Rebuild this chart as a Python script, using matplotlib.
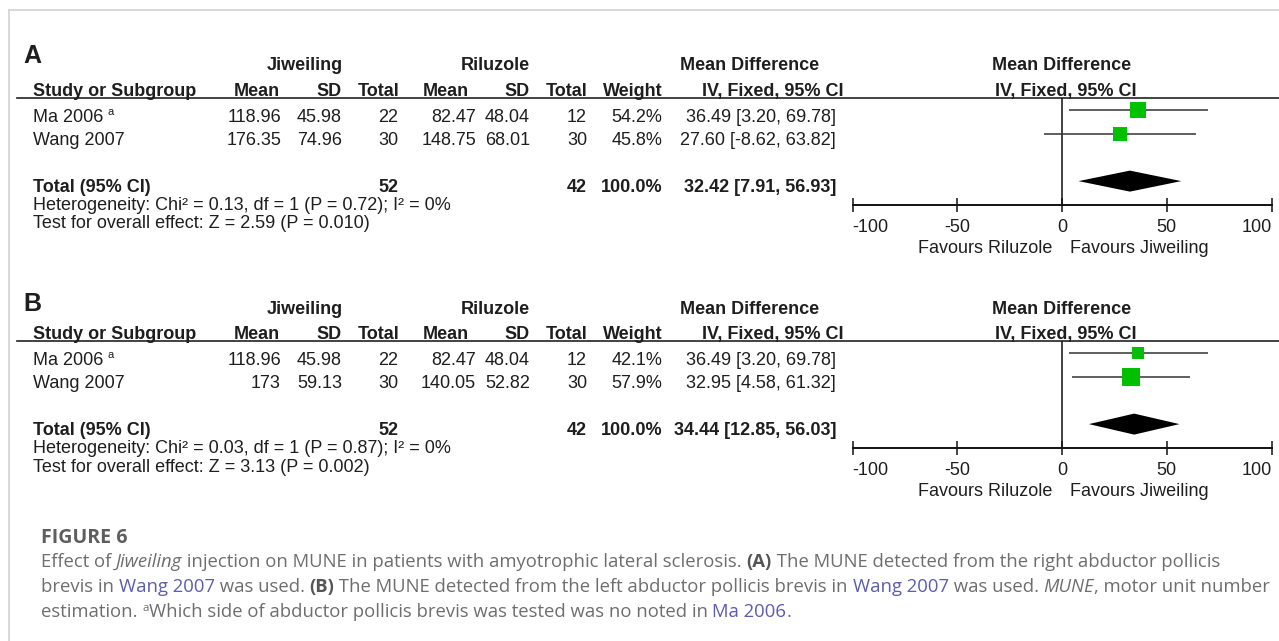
import matplotlib
matplotlib.use('Agg')
import matplotlib.pyplot as plt
from matplotlib.patches import Polygon

# ---- data ----
studies = ['Ma 2006', 'Wang 2007']
jw_n = [22, 30]
rz_n = [12, 30]

# panel A (right abductor pollicis brevis in Wang 2007)
jw_mean_A = [118.96, 176.35]
jw_sd_A = [45.98, 74.96]
rz_mean_A = [82.47, 148.75]
rz_sd_A = [48.04, 68.01]
weight_A = [54.2, 45.8]
md_A = [36.49, 27.60]
lo_A = [3.20, -8.62]
hi_A = [69.78, 63.82]
total_A = [32.42, 7.91, 56.93]
het_A = 'Heterogeneity: Chi\u00b2 = 0.13, df = 1 (P = 0.72); I\u00b2 = 0%'
z_A = 'Test for overall effect: Z = 2.59 (P = 0.010)'

# panel B (left abductor pollicis brevis in Wang 2007)
jw_mean_B = [118.96, 173]
jw_sd_B = [45.98, 59.13]
rz_mean_B = [82.47, 140.05]
rz_sd_B = [48.04, 52.82]
weight_B = [42.1, 57.9]
md_B = [36.49, 32.95]
lo_B = [3.20, 4.58]
hi_B = [69.78, 61.32]
total_B = [34.44, 12.85, 56.03]
het_B = 'Heterogeneity: Chi\u00b2 = 0.03, df = 1 (P = 0.87); I\u00b2 = 0%'
z_B = 'Test for overall effect: Z = 3.13 (P = 0.002)'

xticks = [-100, -50, 0, 50, 100]

W, H = 1279, 641
TXT = '#1e1e1e'
GREEN = '#00c000'
FONT = ['Liberation Sans', 'DejaVu Sans']
CAPFONT = ['Open Sans', 'Noto Sans', 'DejaVu Sans']

fig = plt.figure(figsize=(W / 100, H / 100), dpi=100)
bg = fig.add_axes([0, 0, 1, 1])
bg.set_xlim(0, W)
bg.set_ylim(H, 0)
bg.axis('off')
rend = fig.canvas.get_renderer()

# frame of the figure box
bg.plot([9, W], [10, 10], color='#d2d2d2', lw=1.2)
bg.plot([9, 9], [10, H], color='#d2d2d2', lw=1.2)


def txt(x, y, s, ha='left', bold=False, size=13, va='baseline', **kw):
    return bg.text(x, y, s, ha=ha, va=va, family=FONT, size=size,
                   weight='bold' if bold else 'normal', color=kw.pop('color', TXT), **kw)


def adv(s, **kw):
    # advance width of a string in pixels (keeps trailing spaces)
    t1 = bg.text(0, 0, s + '|', **kw)
    t2 = bg.text(0, 0, '|', **kw)
    w = t1.get_window_extent(rend).width - t2.get_window_extent(rend).width
    t1.remove()
    t2.remove()
    return w


def fmt(v):
    return f'{v:g}'


def panel(y0, letter, jm, js, rm, rs, wt, md, lo, hi, tot, het, zt):
    txt(23, y0 + 62.7 + (5 if letter == 'B' else 0), letter, bold=True, size=18)
    # group headers
    for cx, s in [(305, 'Jiweiling'), (495, 'Riluzole'), (750, 'Mean Difference'),
                  (1062, 'Mean Difference')]:
        txt(cx, y0 + 70.5, s, ha='center', bold=True)
    # column headers
    hb = y0 + 96
    txt(33, hb, 'Study or Subgroup', bold=True)
    for rx, s in [(280, 'Mean'), (342, 'SD'), (399, 'Total'), (469, 'Mean'), (530, 'SD'),
                  (588, 'Total'), (663, 'Weight'), (844, 'IV, Fixed, 95% CI')]:
        txt(rx, hb, s, ha='right', bold=True)
    txt(1066, hb, 'IV, Fixed, 95% CI', ha='center', bold=True)
    bg.plot([17, W], [y0 + 97.5, y0 + 97.5], color='#222222', lw=1.2)

    # study rows
    base = [y0 + 121.7, y0 + 145.2]
    for i, name in enumerate(studies):
        b = base[i]
        t = txt(33, b, name)
        if i == 0:
            w = t.get_window_extent(rend).width
            txt(33 + w + 4, b - 7, 'a', size=8)
        txt(281, b, fmt(jm[i]), ha='right')
        txt(342, b, fmt(js[i]), ha='right')
        txt(398, b, str(jw_n[i]), ha='right')
        txt(476, b, fmt(rm[i]), ha='right')
        txt(530, b, fmt(rs[i]), ha='right')
        txt(587, b, str(rz_n[i]), ha='right')
        txt(662, b, f'{wt[i]:.1f}%', ha='right')
        txt(836, b, f'{md[i]:.2f} [{lo[i]:.2f}, {hi[i]:.2f}]', ha='right')

    tb = y0 + 192
    txt(33, tb, 'Total (95% CI)', bold=True)
    txt(398, tb, str(sum(jw_n)), ha='right', bold=True)
    txt(587, tb, str(sum(rz_n)), ha='right', bold=True)
    txt(662, tb, f'{sum(wt):.1f}%', ha='right', bold=True)
    txt(836, tb, f'{tot[0]:.2f} [{tot[1]:.2f}, {tot[2]:.2f}]', ha='right', bold=True)
    txt(33, y0 + 210, het)
    txt(33, y0 + 228.5, zt)

    # forest plot
    top, bot = y0 + 97.5, y0 + 205
    left, right = 852.5, 1271.5
    ax = fig.add_axes([left / W, 1 - bot / H, (right - left) / W, (bot - top) / H])
    ax.patch.set_alpha(0)
    ax.set_xlim(-100, 100)
    ax.set_ylim(3.96, -0.54)
    for s in ['top', 'left', 'right']:
        ax.spines[s].set_visible(False)
    ax.spines['bottom'].set_linewidth(1.4)
    ax.spines['bottom'].set_color('#111111')
    ax.set_yticks([])
    ax.set_xticks(xticks, [str(v) for v in xticks])
    ax.tick_params(axis='x', direction='inout', length=9.5, width=1.1, color='#111111',
                   pad=5, labelsize=13, labelcolor=TXT)
    for lab in ax.get_xticklabels():
        lab.set_family(FONT)
    labs = ax.get_xticklabels()
    labs[0].set_ha('left')
    labs[-1].set_ha('right')
    ax.axvline(0, color='#111111', lw=1.1)

    rows = [0, 1]
    ax.hlines(rows, lo, hi, color='#333333', lw=1.1)
    for i in range(len(rows)):
        ax.plot(md[i], rows[i], marker='s', ms=0.216 * wt[i], color=GREEN, mew=0, ls='none')
    ty = 2.96
    ax.add_patch(Polygon([(tot[1], ty), (tot[0], ty - 0.44), (tot[2], ty), (tot[0], ty + 0.44)],
                         closed=True, color='black', lw=0))
    ax.text(-4.5, 5.95, 'Favours Riluzole', ha='right', va='baseline', family=FONT,
            size=13, color=TXT, clip_on=False)
    ax.text(4.0, 5.95, 'Favours Jiweiling', ha='left', va='baseline', family=FONT,
            size=13, color=TXT, clip_on=False)


panel(0, 'A', jm=jw_mean_A, js=jw_sd_A, rm=rz_mean_A, rs=rz_sd_A, wt=weight_A, md=md_A,
      lo=lo_A, hi=hi_A, tot=total_A, het=het_A, zt=z_A)
panel(243, 'B', jm=jw_mean_B, js=jw_sd_B, rm=rz_mean_B, rs=rz_sd_B, wt=weight_B, md=md_B,
      lo=lo_B, hi=hi_B, tot=total_B, het=het_B, zt=z_B)

# ---- caption ----
GRAY = '#6e6e6e'
LINK = '#5c5cb0'
cap_lines = [
    [('Effect of ', {}), ('Jiweiling', {'style': 'italic'}),
     (' injection on MUNE in patients with amyotrophic lateral sclerosis. ', {}),
     ('(A)', {'weight': 'bold', 'color': '#555555'}),
     (' The MUNE detected from the right abductor pollicis', {})],
    [('brevis in ', {}), ('Wang 2007', {'color': LINK}), (' was used. ', {}),
     ('(B)', {'weight': 'bold', 'color': '#555555'}),
     (' The MUNE detected from the left abductor pollicis brevis in ', {}),
     ('Wang 2007', {'color': LINK}), (' was used. ', {}), ('MUNE', {'style': 'italic'}),
     (', motor unit number', {})],
    [('estimation. ', {}), ('a', {'sup': True}),
     ('Which side of abductor pollicis brevis was tested was no noted in ', {}),
     ('Ma 2006', {'color': LINK}), ('.', {})],
]


def run_kw(style, size):
    kw = dict(family=CAPFONT, size=size, color=GRAY, va='baseline', ha='left')
    for k, v in style.items():
        if k == 'sup':
            kw['size'] = size * 0.62
        else:
            kw[k] = v
    return kw


# pick the caption size so that the two long lines end about where they do in the figure
s0 = 12.0
w1 = sum(adv(s, **run_kw(st, s0)) for s, st in cap_lines[0])
w2 = sum(adv(s, **run_kw(st, s0)) for s, st in cap_lines[1])
cap_size = s0 * 0.5 * ((1218 - 41) / w1 + (1262 - 41) / w2)

bg.text(41, 543.3, 'FIGURE 6', family=CAPFONT, size=cap_size * 1.06, weight='bold',
        color='#5e5e5e', va='baseline')
for k, line in enumerate(cap_lines):
    x = 41
    y = 567.0 + 25.0 * k
    for s, st in line:
        kw = run_kw(st, cap_size)
        yy = y - 6 if st.get('sup') else y
        bg.text(x, yy, s, **kw)
        x += adv(s, **kw)

fig.savefig('out.png', dpi=100)
